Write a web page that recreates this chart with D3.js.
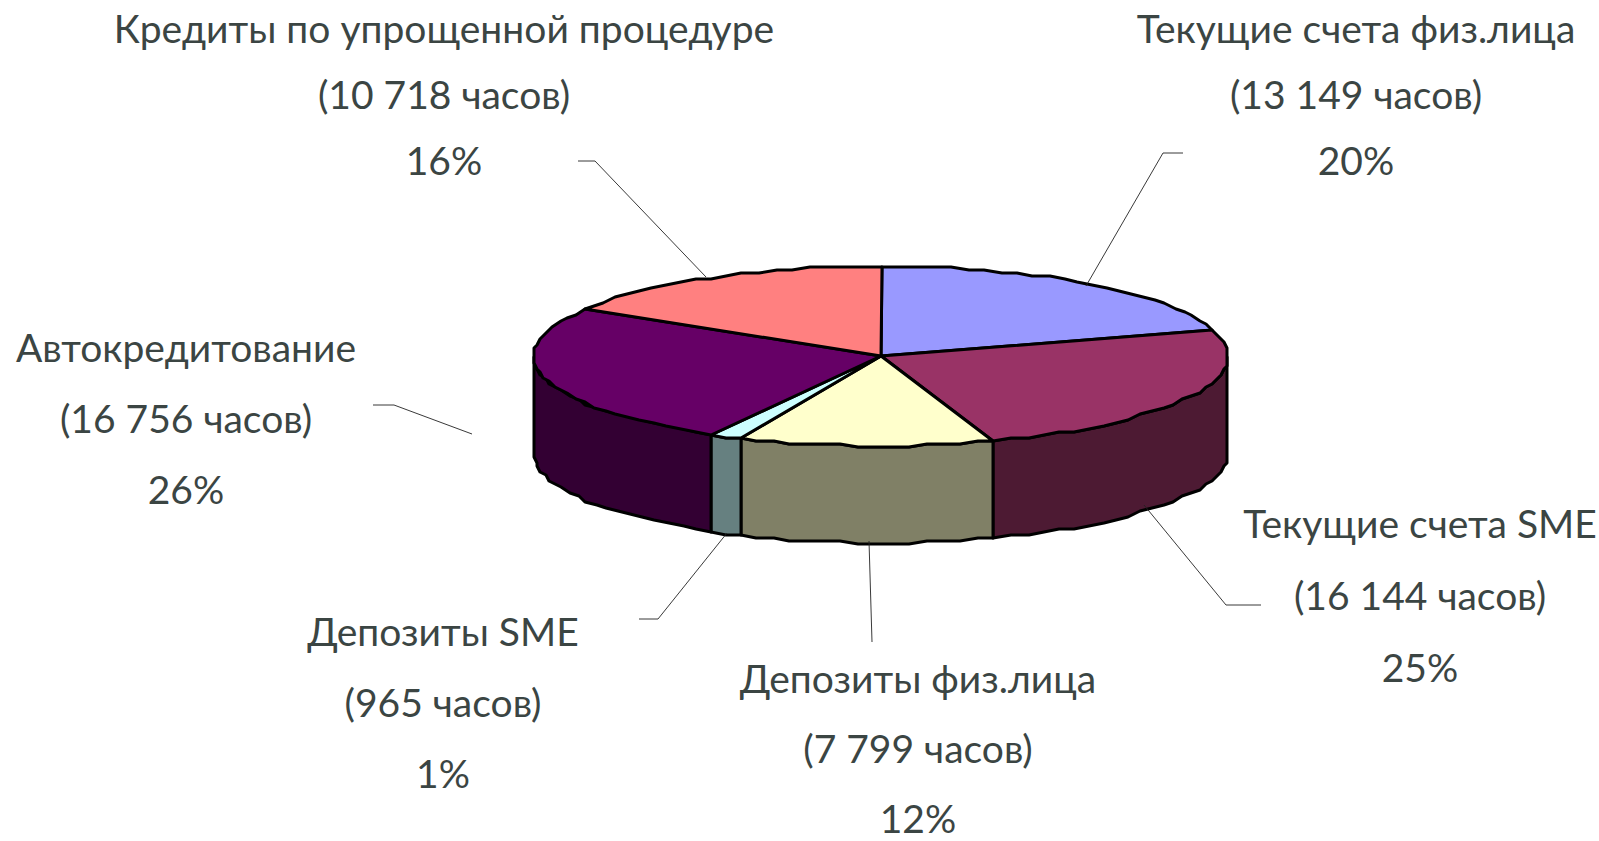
<!DOCTYPE html>
<html>
<head>
<meta charset="utf-8">
<script src="https://cdn.jsdelivr.net/npm/d3@7"></script>
<style>
	html, body { margin: 0; background: #fff; }
	svg { display: block; }
	text { font-family: Lato, "Open Sans", sans-serif; font-size: 39px; fill: #3b4543; text-anchor: middle; }
</style>
</head>
<body>
<svg id="chart" width="1599" height="841"></svg>
<script>
const categories = ['Текущие счета физ.лица', 'Текущие счета SME', 'Депозиты физ.лица', 'Депозиты SME', 'Автокредитование', 'Кредиты по упрощенной процедуре']
const hours = [13149, 16144, 7799, 965, 16756, 10718]
const topColors = ['#9999ff', '#993366', '#ffffcc', '#ccffff', '#660066', '#ff8080']
const sideColors = ['#4d4d80', '#4d1a33', '#808066', '#668080', '#330033', '#804040']

// label centres and leader lines, in page pixels
const labelPos = [[1356, 29], [1420, 524], [918, 679], [443, 632], [186, 348], [444, 29]]
const lineGap = [66, 72, 70, 71, 71, 66]
const leaders = [
	[[1183, 153], [1163, 153], [1086, 286]],
	[[1261, 605], [1226, 605], [1144, 505]],
	[[872, 642], [869, 541]],
	[[639, 619], [658, 619], [727, 533]],
	[[373, 405], [394, 405], [472, 434]],
	[[578, 161], [595, 161], [706, 277]]
]

const cx = 881, cy = 356, rx = 347, ry = 90, depth = 97

const svg = d3.select('#chart')
const fmtHours = d3.formatLocale({ decimal: ',', thousands: ' ', grouping: [3], currency: ['', ''] }).format(',d')
const fmtPct = d3.format('.0%')
const total = d3.sum(hours)

const slices = d3.pie().sort(null).value(d => d)(hours)

// the reference outline is a little wobbly, so snap the samples to a small grid
const snap = v => Math.round(v / 3) * 3
function rimPoints(a0, a1, dy) {
	const n = Math.max(1, Math.ceil((a1 - a0) / (Math.PI / 60)))
	return d3.range(n + 1).map(i => {
		const a = a0 + (a1 - a0) * i / n
		return [snap(cx + rx * Math.sin(a)), snap(cy - ry * Math.cos(a)) + dy]
	})
}

const line = d3.line()
const outline = '#000'

// side walls: only the front half of the disc shows
const wallG = svg.append('g')
slices.forEach((s, i) => {
	const a0 = Math.max(s.startAngle, Math.PI / 2)
	const a1 = Math.min(s.endAngle, Math.PI * 1.5)
	if (a1 <= a0) return
	const pts = rimPoints(a0, a1, 0).concat(rimPoints(a0, a1, depth).reverse())
	wallG.append('path')
		.attr('d', line(pts) + 'Z')
		.attr('fill', sideColors[i])
		.attr('stroke', outline)
		.attr('stroke-width', 3)
		.attr('stroke-linejoin', 'round')
})

// top face
const topG = svg.append('g')
slices.forEach((s, i) => {
	const pts = [[cx, cy]].concat(rimPoints(s.startAngle, s.endAngle, 0))
	topG.append('path')
		.attr('d', line(pts) + 'Z')
		.attr('fill', topColors[i])
		.attr('stroke', outline)
		.attr('stroke-width', 3)
		.attr('stroke-linejoin', 'round')
})

// leader lines
svg.append('g').selectAll('path')
	.data(leaders)
	.join('path')
	.attr('d', d => line(d))
	.attr('fill', 'none')
	.attr('stroke', '#222')
	.attr('stroke-width', 0.9)

// labels
const labelG = svg.append('g')
categories.forEach((name, i) => {
	const rows = [name, `(${fmtHours(hours[i])} часов)`, fmtPct(hours[i] / total)]
	rows.forEach((row, k) => {
		labelG.append('text')
			.attr('x', labelPos[i][0])
			.attr('y', labelPos[i][1] + k * lineGap[i])
			.attr('dy', '0.35em')
			.text(row)
	})
})
</script>
</body>
</html>
